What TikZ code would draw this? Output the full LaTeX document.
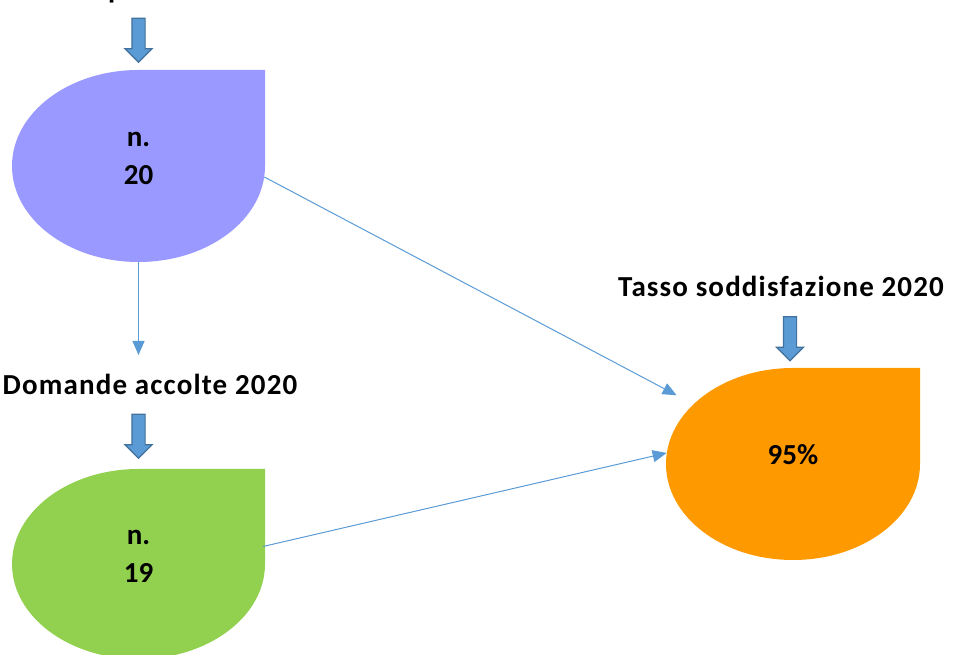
\documentclass[tikz,border=0pt]{standalone}
\usepackage{fontspec}
\setmainfont{Carlito}
\usepackage{tikz}
\usetikzlibrary{positioning,shapes.geometric,shapes.arrows,arrows.meta}
\usepackage{xcolor}

\begin{document}
\begin{tikzpicture}[x=1bp,y=1bp,every node/.style={font=\fontsize{29bp}{38bp}\selectfont\bfseries}]
			% Define colors
			\definecolor{dropviolet}{RGB}{153, 153, 255}
			\definecolor{dropgreen}{RGB}{146, 208, 80}
			\definecolor{droporange}{RGB}{255, 153, 0}
			\definecolor{linkblue}{RGB}{91, 155, 213}
			\definecolor{arrowedge}{RGB}{65, 113, 156}

			% Styles
			\tikzstyle{drop_shape} = [ellipse, minimum width=253bp, minimum height=192bp, inner sep=0pt]
			\tikzstyle{drop_text} = [align=center, inner sep=0pt]
			\tikzstyle{caption} = [anchor=base, inner sep=0pt, font=\fontsize{29bp}{38bp}\selectfont\bfseries\addfontfeatures{LetterSpace=4}]
			\tikzstyle{block_arrow} = [single arrow, rotate=-90, fill=linkblue, draw=arrowedge, line width=1.2bp, minimum height=44bp, inner xsep=0pt, inner ysep=6bp, single arrow head extend=7bp, single arrow head indent=0pt]
			\tikzstyle{link} = [draw=linkblue, line width=1bp, -{Triangle[length=14bp,width=12bp]}]

			% Page
			\useasboundingbox (0,0) rectangle (954,655);
			\clip (0,0) rectangle (954,655);

			% Drop shapes (square corner top right)
			\fill[dropviolet] (265,489) -- (265,585) -- (138.5,585) arc[start angle=90, end angle=360, x radius=126.5, y radius=96] -- cycle;
			\fill[dropgreen] (265,91) -- (265,186) -- (138.5,186) arc[start angle=90, end angle=360, x radius=126.5, y radius=95] -- cycle;
			\fill[droporange] (920,191) -- (920,287) -- (793,287) arc[start angle=90, end angle=360, x radius=127, y radius=96] -- cycle;

			\node[drop_shape] (presentate) at (138.5, 489) {};
			\node[drop_shape, minimum height=190bp] (accolte) at (138.5, 91) {};
			\node[drop_shape, minimum width=254bp] (tasso) at (793, 191) {};

			% Values
			\node[drop_text] (presentateVal) at ([yshift=8bp]presentate.center) {n.\\20};
			\node[drop_text] (accolteVal) at ([yshift=8bp]accolte.center) {n.\\19};
			\node[drop_text] (tassoVal) at ([yshift=9bp]tasso.center) {95\%};

			% Captions
			\node[caption] (presentateCap) at (147, 656.5) {Domande presentate 2020};
			\node[caption] (accolteCap) at (150, 260) {Domande accolte 2020};
			\node[caption] (tassoCap) at (781, 358) {Tasso soddisfazione 2020};

			% Block arrows
			\node[block_arrow] (presentateArr) at (138.5, 618) {};
			\node[block_arrow] (accolteArr) at (138.5, 222) {};
			\node[block_arrow] (tassoArr) at (790, 319.5) {};

			% Links
			\coordinate (accolteTip) at (138.5, 300);
			\draw[link] (presentate.south) -- (accolteTip);
			\draw[link, shorten >=19bp] (presentate.-5) -- (tasso.149);
			\draw[link] (accolte.8) -- (tasso.175);

		\end{tikzpicture}
\end{document}
